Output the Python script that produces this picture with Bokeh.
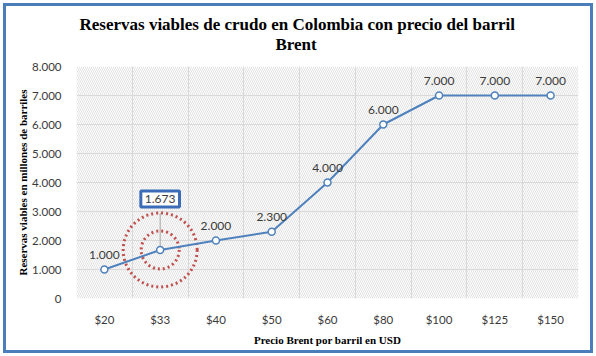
from bokeh.plotting import figure
from bokeh.models import (ColumnDataSource, FixedTicker, BoxAnnotation, Label, Range1d, Title)
from bokeh.core.properties import value
from bokeh.embed import file_html
from bokeh.resources import INLINE

# ---- data ----
categories = ["$20", "$33", "$40", "$50", "$60", "$80", "$100", "$125", "$150"]
reserves = [1000, 1673, 2000, 2300, 4000, 6000, 7000, 7000, 7000]
y_ticks = [0, 1000, 2000, 3000, 4000, 5000, 6000, 7000, 8000]
highlight_index = 1

title_line1 = "Reservas viables de crudo en Colombia con precio del barril"
title_line2 = "Brent"
x_title = "Precio Brent por barril en USD"
y_title = "Reservas viables en millones de barriles"


def fmt(v):
    return f"{v:,}".replace(",", ".")


idx = list(range(len(categories)))

BLUE = "#4f81bd"
RED = "#c0504d"
TXT = "#3a3a3a"
TICK_FONT = "Lato"
SERIF = "Liberation Serif"

p = figure(width=596, height=356, output_backend="svg", toolbar_location=None,
           title=None,
           x_range=Range1d(-0.5, len(categories) - 0.5), y_range=Range1d(0, 8000),
           min_border_left=76, min_border_right=18, min_border_top=66, min_border_bottom=58)
# outer chart border: painted by the page element behind a transparent canvas border
p.styles = {"background": "white",
            "box-shadow": "inset 0 0 0 3px white, inset 0 0 0 6px #4a7ebb"}
p.outline_line_color = None
p.background_fill_color = "white"
p.border_fill_color = None

# title (two lines; first added sits closest to the frame)
for t, so, off in ((title_line2, 25, 199), (title_line1, -26, 3)):
    p.add_layout(Title(text=t, align="left", offset=off, standoff=so,
                       text_font=SERIF, text_font_style="bold", text_font_size="17px",
                       text_color="#000000"), "above")

# hatched plot area
hatch = BoxAnnotation(fill_color=None, line_color=None, hatch_pattern="\\",
                      hatch_color="#e2e2e2", hatch_scale=4, hatch_weight=1, level="image")
p.add_layout(hatch)

# grids
p.ygrid.ticker = FixedTicker(ticks=y_ticks)
p.xgrid.ticker = FixedTicker(ticks=[i - 0.5 for i in range(len(categories) + 1)])
for g in (p.xgrid, p.ygrid):
    g.grid_line_color = "#d9d9d9"
    g.grid_line_width = 1

# axes
p.xaxis.ticker = FixedTicker(ticks=idx)
p.xaxis.major_label_overrides = {i: c for i, c in zip(idx, categories)}
p.yaxis.ticker = FixedTicker(ticks=y_ticks)
p.yaxis.major_label_overrides = {t: fmt(t) for t in y_ticks}
for ax in (p.xaxis, p.yaxis):
    ax.axis_line_color = None
    ax.major_tick_line_color = None
    ax.minor_tick_line_color = None
    ax.major_label_text_font = TICK_FONT
    ax.major_label_text_font_size = "11.5px"
    ax.major_label_text_color = TXT
    ax.axis_label_text_font = SERIF
    ax.axis_label_text_font_style = "bold"
    ax.axis_label_text_font_size = "11px"
    ax.axis_label_text_color = "#000000"
p.yaxis.major_label_standoff = 9
p.xaxis.major_label_standoff = 8
p.xaxis.axis_label = x_title
p.yaxis.axis_label = y_title
p.xaxis.axis_label_standoff = 5
p.yaxis.axis_label_standoff = 0

# dotted red circles around highlighted point
hx = [idx[highlight_index]]
hy = [reserves[highlight_index]]
p.scatter(hx, hy, marker="circle", size=74, fill_color=None, line_color=RED,
          line_width=3, line_dash="2 3")
p.scatter(hx, hy, marker="circle", size=38, fill_color=None, line_color=RED,
          line_width=3, line_dash="2 3")

# leader line
p.segment(x0=hx, y0=hy, x1=hx, y1=[2950], line_color="#a6a6a6", line_width=1)

# series
src = ColumnDataSource(dict(x=idx, y=reserves))
p.line("x", "y", source=src, line_color=BLUE, line_width=2)
p.scatter("x", "y", source=src, marker="circle", size=7, fill_color="white",
          line_color=BLUE, line_width=1.5)

# data labels
lab_x = [i for i in idx if i != highlight_index]
lab_y = [reserves[i] for i in lab_x]
lab_t = [fmt(reserves[i]) for i in lab_x]
p.text(x=lab_x, y=lab_y, text=lab_t, text_align="center", text_baseline="middle",
       y_offset=-15, text_font=value(TICK_FONT), text_font_size="12px", text_color=TXT)

# callout
p.add_layout(Label(x=hx[0], y=hy[0], text=fmt(hy[0]), y_offset=51,
                   text_align="center", text_baseline="middle",
                   text_font=TICK_FONT, text_font_size="12px", text_color=TXT,
                   background_fill_color="white", border_line_color="#3b6cb7",
                   border_line_width=3, padding=4))

open("out.html", "w").write(file_html(p, INLINE))
